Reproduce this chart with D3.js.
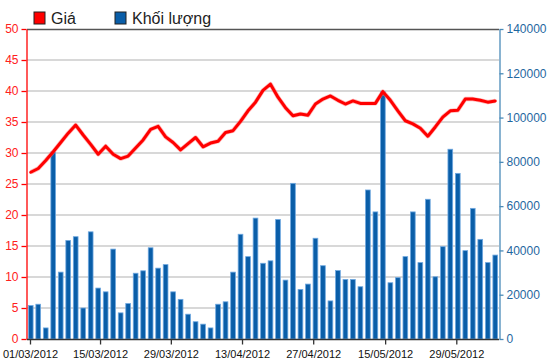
<!DOCTYPE html>
<html>
<head>
<meta charset="utf-8">
<script src="https://cdn.jsdelivr.net/npm/d3@7"></script>
<style>
  body { margin: 0; background: #fff; }
  svg { display: block; font-family: "Liberation Sans", Arial, sans-serif; }
</style>
</head>
<body>
<svg id="chart" width="550" height="364"></svg>
<script>
// price per session (left axis)
const price = [
	26.9, 27.5, 28.8, 30.2, 31.7, 33.2, 34.5, 32.9, 31.4, 29.8,
	31.1, 29.8, 29.1, 29.5, 30.8, 32.1, 33.8, 34.3, 32.6, 31.7,
	30.5, 31.5, 32.5, 31.0, 31.6, 31.9, 33.3, 33.6, 35.1, 36.8,
	38.2, 40.1, 41.1, 39.0, 37.3, 36.0, 36.3, 36.1, 37.9, 38.7,
	39.2, 38.5, 37.9, 38.4, 38.0, 38.0, 38.0, 39.9, 38.5, 36.8,
	35.2, 34.7, 34.0, 32.7, 34.2, 35.8, 36.8, 36.9, 38.7, 38.7,
	38.5, 38.2, 38.4
];

// volume per session (right axis)
const volume = [
	15100, 15700, 5000, 84500, 30200, 44500, 46200, 14000, 48400, 23000,
	21300, 40600, 11800, 16000, 29700, 30800, 41200, 32000, 33600, 21300,
	17900, 11200, 7800, 6700, 5000, 15700, 16800, 30200, 47300, 37200,
	54600, 34200, 35300, 54000, 26600, 70300, 22400, 24800, 45500, 33100,
	17200, 30900, 26900, 26900, 23600, 67300, 57400, 111700, 25400, 27700,
	37200, 57400, 34500, 63100, 28100, 41700, 85700, 74800, 39900, 59000,
	45000, 34500, 37900
];

// date labels on the x axis and the session position they sit at
const dateLabels = ['01/03/2012', '15/03/2012', '29/03/2012', '13/04/2012', '27/04/2012', '15/05/2012', '29/05/2012'];
const dateAt = [-0.1, 9.25, 18.7, 28.2, 37.7, 47.3, 56.8];

const priceTicks = [0, 5, 10, 15, 20, 25, 30, 35, 40, 45, 50];
const volumeTicks = [0, 20000, 40000, 60000, 80000, 100000, 120000, 140000];

const legend = [
	{ name: 'Giá', color: '#ff0000' },
	{ name: 'Khối lượng', color: '#0a5ea8' }
];

const svg = d3.select('#chart');
const plotL = 27, plotR = 499, plotT = 29, plotB = 339;

const x = d3.scaleLinear()
	.domain([-0.5, volume.length - 0.5])
	.range([plotL, plotR]);
const yPrice = d3.scaleLinear().domain([0, 50]).range([plotB, plotT]);
const yVol = d3.scaleLinear().domain([0, 140000]).range([plotB, plotT]);
const barW = (x(1) - x(0)) * 0.63;

// grid
svg.append('g')
	.selectAll('line')
	.data(priceTicks.filter((d) => d > 0 && d < 50))
	.join('line')
	.attr('x1', plotL).attr('x2', plotR)
	.attr('y1', (d) => yPrice(d)).attr('y2', (d) => yPrice(d))
	.attr('stroke', '#cbcbcb')
	.attr('stroke-width', 1.6);

// top frame
svg.append('line')
	.attr('x1', plotL).attr('x2', plotR)
	.attr('y1', plotT + 0.5).attr('y2', plotT + 0.5)
	.attr('stroke', '#555')
	.attr('stroke-width', 1.5);

// volume bars
svg.append('g')
	.selectAll('rect')
	.data(volume)
	.join('rect')
	.attr('x', (d, i) => x(i) - barW / 2)
	.attr('y', (d) => yVol(d))
	.attr('width', barW)
	.attr('height', (d) => plotB - yVol(d))
	.attr('fill', '#0a5ea8')
	.attr('stroke', '#6fa8e0')
	.attr('stroke-width', 0.8);

// price line
const line = d3.line()
	.x((d, i) => x(i))
	.y((d) => yPrice(d));

svg.append('path')
	.attr('d', line(price))
	.attr('fill', 'none')
	.attr('stroke', '#ff7070')
	.attr('stroke-opacity', 0.5)
	.attr('stroke-width', 4.4)
	.attr('stroke-linejoin', 'round');

svg.append('path')
	.attr('d', line(price))
	.attr('fill', 'none')
	.attr('stroke', '#ff0000')
	.attr('stroke-width', 3)
	.attr('stroke-linejoin', 'round')
	.attr('stroke-linecap', 'round');

// left axis
const gLeft = svg.append('g')
	.attr('transform', `translate(${plotL - 0.5},0)`)
	.call(d3.axisLeft(yPrice).tickValues(priceTicks).tickSize(5).tickPadding(3).tickSizeOuter(0));
gLeft.selectAll('line, path').attr('stroke', '#ff0000').attr('stroke-width', 1.3);
gLeft.selectAll('text').attr('fill', '#ff2020').style('font-size', '12px').style('font-family', '"Liberation Sans", Arial, sans-serif');

// right axis
const gRight = svg.append('g')
	.attr('transform', `translate(${plotR + 0.5},0)`)
	.call(d3.axisRight(yVol).tickValues(volumeTicks).tickSize(4).tickPadding(3).tickSizeOuter(0).tickFormat(d3.format('d')));
gRight.selectAll('line, path').attr('stroke', '#4a8ab8').attr('stroke-width', 1.3);
gRight.selectAll('text').attr('fill', '#1f679f').style('font-size', '12px').style('font-family', '"Liberation Sans", Arial, sans-serif');

// bottom axis
const gBottom = svg.append('g')
	.attr('transform', `translate(0,${plotB + 0.5})`)
	.call(d3.axisBottom(x).tickValues(dateAt).tickFormat((d, i) => dateLabels[i]).tickSize(5).tickPadding(6).tickSizeOuter(0));
gBottom.select('.domain').attr('d', `M${plotL},0H${plotR}`).attr('stroke', '#333').attr('stroke-width', 1.5);
gBottom.selectAll('line').attr('stroke', '#333').attr('stroke-width', 1.3);
gBottom.selectAll('text').attr('fill', '#111').style('font-size', '11px').style('font-family', '"Liberation Sans", Arial, sans-serif');

// legend
const lg = svg.append('g')
	.selectAll('g')
	.data(legend)
	.join('g')
	.attr('transform', (d, i) => `translate(${[34, 115][i]},12)`);
lg.append('rect')
	.attr('width', 11).attr('height', 12)
	.attr('fill', (d) => d.color)
	.attr('stroke', '#222')
	.attr('stroke-width', 1);
lg.append('text')
	.attr('x', 17).attr('y', 12)
	.attr('fill', '#222')
	.style('font-size', '16px')
	.text((d) => d.name);
</script>
</body>
</html>
